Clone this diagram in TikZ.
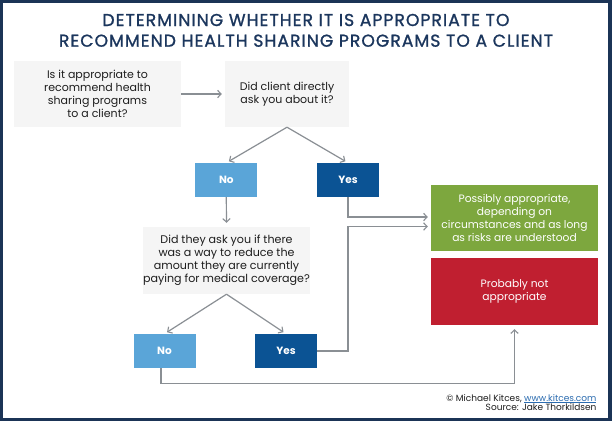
\documentclass[tikz,border=0pt]{standalone}
\usepackage{fontspec}
\setmainfont{Poppins}
\newfontfamily\titlefont{Poppins}[FakeBold=1.2,LetterSpace=6]
\usetikzlibrary{arrows.meta,calc}
\definecolor{frame}{HTML}{1B3456}
\definecolor{titlec}{HTML}{1B365D}
\definecolor{boxgray}{HTML}{F5F5F5}
\definecolor{noblue}{HTML}{5AA5D8}
\definecolor{yesblue}{HTML}{0B5394}
\definecolor{okgreen}{HTML}{7DA73E}
\definecolor{nored}{HTML}{C01F30}
\definecolor{linegray}{HTML}{8A8F94}
\definecolor{txt}{HTML}{1E1E1E}
\definecolor{linkblue}{HTML}{2B6CB0}
\begin{document}
\begin{tikzpicture}[x=1pt,y=-1pt,
  qbox/.style={fill=boxgray, inner sep=0pt, align=center, text=txt},
  small/.style={font=\fontsize{11}{13}\selectfont},
  large/.style={font=\fontsize{11.1}{13}\selectfont},
  ansbox/.style={inner sep=0pt, minimum width=62pt, minimum height=34pt, text=white, font=\bfseries\fontsize{10.5}{12}\selectfont},
  resbox/.style={inner sep=0pt, minimum width=167pt, align=center, text=white, font=\fontsize{10.7}{12.9}\selectfont},
  conn/.style={draw=linegray, line width=1.2pt},
  arr/.style={conn, -{Straight Barb[length=3.5pt,width=7.5pt,line width=1.1pt]}}
]
\useasboundingbox (0,0) rectangle (612,421);
\fill[frame] (0,0) rectangle (612,421);
\fill[white] (3,3) rectangle (608,418);

\node[anchor=base, text=titlec, font=\titlefont\fontsize{17.2}{20}\selectfont] (title1) at (306,26) {DETERMINING WHETHER IT IS APPROPRIATE TO};
\node[anchor=base, text=titlec, font=\titlefont\fontsize{17.2}{20}\selectfont] (title2) at (306,46.7) {RECOMMEND HEALTH SHARING PROGRAMS TO A CLIENT};

\node[qbox, small, minimum width=167pt, minimum height=66pt] (q1) at (97.5,94) {Is it appropriate to\\recommend health\\sharing programs\\to a client?};
\node[qbox, small, minimum width=124pt, minimum height=66pt] (q2) at (287,94) {Did client directly\\ask you about it?};
\node[ansbox, fill=noblue] (no1) at (226.3,180) {No};
\node[ansbox, fill=yesblue] (yes1) at (348,180) {Yes};
\node[qbox, large, minimum width=167pt, minimum height=67pt] (q3) at (226.5,260.5) {Did they ask you if there\\was a way to reduce the\\amount they are currently\\paying for medical coverage?};
\node[ansbox, fill=noblue] (no2) at (164.5,351) {No};
\node[ansbox, fill=yesblue] (yes2) at (286,351) {Yes};
\node[resbox, fill=okgreen, minimum height=66pt] (green) at (514.5,218) {Possibly appropriate,\\depending on\\circumstances and as long\\as risks are understood};
\node[resbox, fill=nored, minimum height=67pt] (red) at (514.5,291.5) {Probably not\\appropriate};

\coordinate (gin1) at ($(green.west)+(0,-1)$);
\coordinate (gin2) at ($(green.west)+(0,8.5)$);

\draw[arr, shorten >=3pt] (q1.east) -- (q2.west);
\draw[arr, shorten >=3pt] (q2.south) -- (no1.north);
\draw[arr, shorten >=3pt] (q2.south) -- (yes1.north);
\draw[arr, shorten >=4pt] (no1.south) -- (q3.north);
\draw[arr, shorten >=3pt] (q3.south) -- (no2.north);
\draw[arr, shorten >=3pt] (q3.south) -- (yes2.north);
\draw[arr, shorten >=3pt] (yes1.south) |- (gin1);
\draw[arr, shorten >=3pt] (yes2.east) -| (yes1.south |- gin2) -- (gin2);
\coordinate (nostart) at ($(no2.south)+(-3.5,0)$);
\draw[arr, shorten >=4pt] (nostart) -- ++(0,15) -| (red.south);

\node[anchor=base east, text=txt, font=\fontsize{9}{10}\selectfont] (credit1) at (600,401) {\copyright{} Michael Kitces, \textcolor{linkblue}{\underline{www.kitces.com}}};
\node[anchor=base east, text=txt, font=\fontsize{9}{10}\selectfont] (credit2) at (600,410.7) {Source: Jake Thorkildsen};
\end{tikzpicture}
\end{document}
